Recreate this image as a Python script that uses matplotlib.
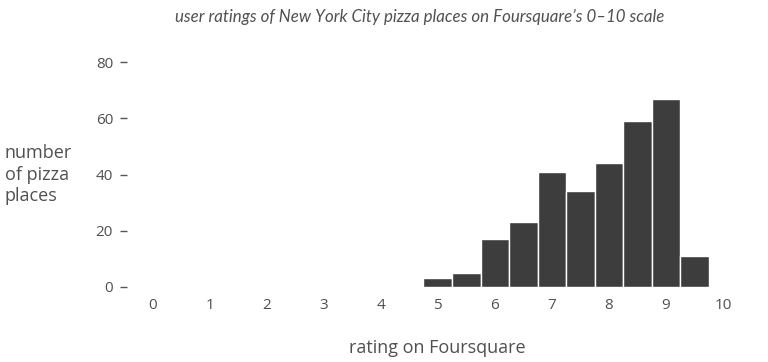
import matplotlib
matplotlib.use("Agg")
import matplotlib.pyplot as plt
import numpy as np

# data
bin_centers = [5.0, 5.5, 6.0, 6.5, 7.0, 7.5, 8.0, 8.5, 9.0, 9.5]
counts = [3, 5, 17, 23, 41, 34, 44, 59, 67, 11]
bin_width = 0.5
x_ticks = [0, 1, 2, 3, 4, 5, 6, 7, 8, 9, 10]
y_ticks = [0, 20, 40, 60, 80]

title = "user ratings of New York City pizza places on Foursquare\u2019s 0\u201310 scale"
xlabel = "rating on Foursquare"
ylabel = "number\nof pizza\nplaces"

plt.rcParams['font.family'] = ['Open Sans', 'DejaVu Sans']
W, H = 768, 362
fig = plt.figure(figsize=(W/100, H/100), dpi=100)

left_px, right_px = 127, 748.5
bottom_px, top_px = 286.7, 62.3
ax = fig.add_axes([left_px/W, 1-bottom_px/H, (right_px-left_px)/W, (bottom_px-top_px)/H])

bar_color = "#3d3d3d"
text_color = "#505050"
ax.bar(bin_centers, counts, width=bin_width, color=bar_color, edgecolor="white", linewidth=1.0)

ax.set_xlim(-0.447, 10.447)
ax.set_ylim(0, 80)
for s in ax.spines.values():
    s.set_visible(False)
ax.set_xticks(x_ticks)
ax.set_yticks(y_ticks)
ax.tick_params(axis='x', length=0, pad=8, labelsize=11, labelcolor=text_color)
ax.tick_params(axis='y', length=5, width=1, pad=5, labelsize=11, labelcolor=text_color, color="#555555")

fig.text(420/W, 1-17/H, title, ha='center', va='center', fontsize=12.2, style='italic',
         color=text_color, family=['Lato', 'DejaVu Sans'])
fig.text(437/W, 1-348/H, xlabel, ha='center', va='center', fontsize=13, color=text_color)
fig.text(5/W, 1-175/H, ylabel, ha='left', va='center', fontsize=13, color=text_color, linespacing=1.25)

fig.savefig("out.png", dpi=100)
